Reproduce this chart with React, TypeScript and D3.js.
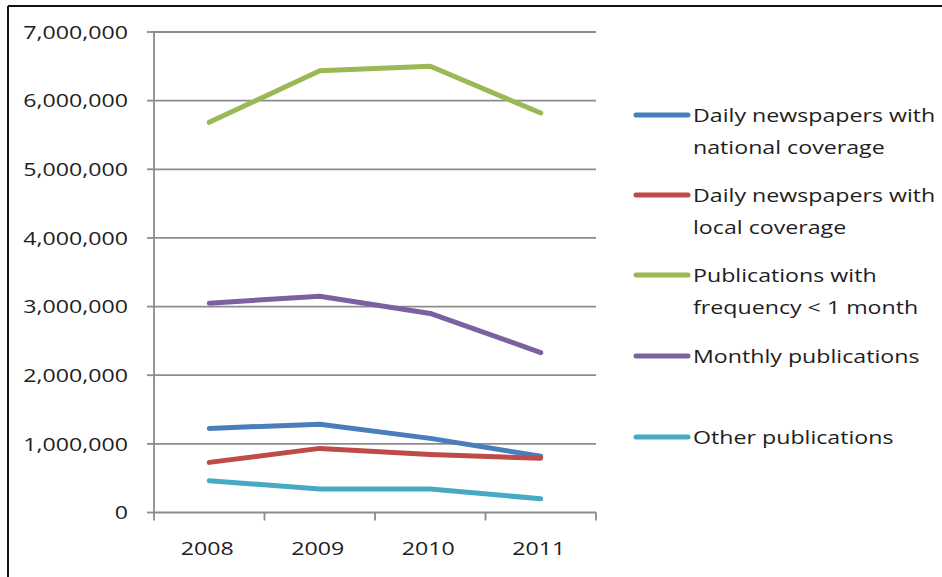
import React from 'react';
import * as d3 from 'd3';

const years = ['2008', '2009', '2010', '2011'];

const nationalDaily = [1225000, 1287000, 1080000, 820000];
const localDaily = [730000, 934000, 846000, 790000];
const subMonthly = [5684000, 6436000, 6500000, 5820000];
const monthly = [3050000, 3150000, 2900000, 2330000];
const otherPubs = [463000, 342000, 342000, 200000];

const yTicks = [0, 1000000, 2000000, 3000000, 4000000, 5000000, 6000000, 7000000];

const series = [
  { lines: ['Daily newspapers with', 'national coverage'], values: nationalDaily, color: '#4a7ebb' },
  { lines: ['Daily newspapers with', 'local coverage'], values: localDaily, color: '#be4b48' },
  { lines: ['Publications with', 'frequency < 1 month'], values: subMonthly, color: '#98b954' },
  { lines: ['Monthly publications'], values: monthly, color: '#7d60a0' },
  { lines: ['Other publications'], values: otherPubs, color: '#46aac5' },
];

// legend rows (top of each entry), Excel spaces them unevenly
const legendRows = [115, 195, 275, 356, 437];

const W = 942;
const H = 577;
const margin = { top: 32, right: 346, bottom: 64.5, left: 154 };
const FONT = "'Open Sans', sans-serif";
// the source picture is stretched sideways, so text gets a horizontal scale
const SX = 1.22;

const App: React.FC = () => {
  const x = d3.scaleBand<string>()
    .domain(years)
    .range([margin.left, W - margin.right]);

  const y = d3.scaleLinear()
    .domain([0, 7000000])
    .range([H - margin.bottom, margin.top]);

  const fmt = d3.format(',');

  const line = d3.line<number>()
    .x((_, i) => (x(years[i]) || 0) + x.bandwidth() / 2)
    .y(d => y(d));

  const x0 = margin.left;
  const x1 = W - margin.right;
  const yBase = y(0);

  const label = (tx: number, ty: number, txt: string, anchor: string, key?: React.Key) => (
    <text
      key={key}
      transform={`translate(${tx},${ty}) scale(${SX},1)`}
      dy="0.35em"
      textAnchor={anchor}
      fontFamily={FONT}
      fontSize={19}
      fill="#1e1e1e"
    >
      {txt}
    </text>
  );

  return (
    <svg width={W} height={H} style={{ position: 'absolute', left: 0, top: 0, background: '#fff' }}>
      {/* frame (left + top only) */}
      <line x1={8} y1={6} x2={8} y2={H} stroke="#111" strokeWidth={2} />
      <line x1={8} y1={6} x2={W} y2={6} stroke="#111" strokeWidth={2} />

      {/* gridlines + y ticks */}
      {yTicks.map(t => (
        <g key={t}>
          {t > 0 && (
            <line x1={x0} x2={x1} y1={y(t)} y2={y(t)} stroke="#8c8c8c" strokeWidth={1.8} />
          )}
          <line x1={x0 - 7} x2={x0} y1={y(t)} y2={y(t)} stroke="#8c8c8c" strokeWidth={1.8} />
          {label(128, y(t), fmt(t), 'end')}
        </g>
      ))}

      {/* axes */}
      <line x1={x0} x2={x0} y1={margin.top - 1} y2={yBase} stroke="#8c8c8c" strokeWidth={1.8} />
      <line x1={x0} x2={x1} y1={yBase} y2={yBase} stroke="#8c8c8c" strokeWidth={1.8} />
      {[...years.map(yr => x(yr) || 0), x1].map((px, i) => (
        <line key={i} x1={px} x2={px} y1={yBase} y2={yBase + 8} stroke="#8c8c8c" strokeWidth={1.8} />
      ))}
      {years.map(yr => label((x(yr) || 0) + x.bandwidth() / 2 - 2, 548, yr, 'middle', yr))}

      {/* series */}
      {series.map(s => (
        <path
          key={s.lines.join(' ')}
          d={line(s.values) || ''}
          fill="none"
          stroke={s.color}
          strokeWidth={5}
          strokeLinejoin="round"
          strokeLinecap="round"
        />
      ))}

      {/* legend */}
      {series.map((s, i) => (
        <g key={i} transform={`translate(0,${legendRows[i]})`}>
          <line x1={636} x2={688} y1={0} y2={0} stroke={s.color} strokeWidth={5} strokeLinecap="round" />
          {s.lines.map((txt, j) => label(693, j * 32, txt, 'start', j))}
        </g>
      ))}
    </svg>
  );
};

export default App;
